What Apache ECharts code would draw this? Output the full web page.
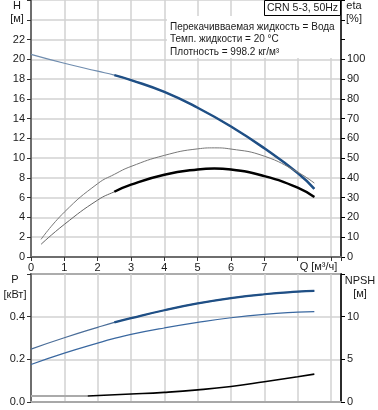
<!DOCTYPE html>
<html><head><meta charset="utf-8">
<script src="https://cdn.jsdelivr.net/npm/echarts@6/dist/echarts.min.js"></script>
<style>html,body{margin:0;padding:0;background:#fff}#c{width:378px;height:410px}</style>
</head><body><div id="c"></div>
<script>
// ---- data ----
const Q_H   = [0, 1, 2, 2.5, 3, 4, 5, 6, 7, 8, 8.5];
const H     = [20.5, 19.6, 18.8, 18.4, 17.9, 16.7, 15.1, 13.2, 11.0, 8.5, 6.9];
const Q_ETA = [0.3, 1, 2, 2.5, 3, 4, 5, 5.5, 6, 7, 8, 8.5];
const ETA_PUMP  = [8.9, 22.7, 37.1, 41.8, 45.8, 51.4, 54.7, 55.2, 54.6, 51.0, 42.9, 37.4];
const ETA_TOTAL = [6.4, 16.5, 28.8, 33.0, 36.6, 41.6, 44.3, 44.8, 44.3, 40.9, 35.1, 30.3];
const Q_P   = [0, 1, 2, 2.5, 3, 4, 5, 6, 7, 8, 8.5];
const P1    = [0.248, 0.301, 0.350, 0.373, 0.393, 0.430, 0.462, 0.487, 0.505, 0.517, 0.521];
const P2    = [0.176, 0.229, 0.276, 0.298, 0.317, 0.347, 0.373, 0.395, 0.411, 0.421, 0.424];
const Q_NPSH_LOW = [0, 1.7];
const NPSH_LOW   = [0.7, 0.7];
const Q_NPSH = [1.7, 3, 4, 5, 6, 7, 8, 8.5];
const NPSH   = [0.7, 0.93, 1.13, 1.42, 1.82, 2.37, 2.96, 3.27];
const THICK_FROM = 2.5;
const INFO_LINES = ['Перекачивваемая жидкость = Вода', 'Темп. жидкости = 20 °C', 'Плотность = 998.2 кг/м³'];
const TITLE = 'CRN 5-3, 50Hz';

const pairs = (xs, ys) => xs.map((x, i) => [x, ys[i]]);
const thick = (xs, ys) => pairs(xs, ys).filter(p => p[0] >= THICK_FROM);

const FONT = '"Liberation Sans", Arial, sans-serif';
const TXT = '#1a1a1a';
const GRIDC = '#d2d2d2';
const BLUE = '#1f4f85';

const chart = echarts.init(document.getElementById('c'), null, {renderer: 'canvas'});

const xBase = {
  type: 'value', min: 0, max: 9.3, interval: 1,
  splitLine: {show: true, lineStyle: {color: GRIDC, width: 1.5}},
};

const lbl = (s, x, y, size) => ({
  type: 'text', x: x, y: y, z: 20,
  style: {text: s, font: (size || 11) + 'px ' + FONT, fill: TXT, textAlign: 'center', textVerticalAlign: 'middle'}
});

const graphics = [
  {type: 'rect', shape: {x: 167, y: 16, width: 173, height: 42}, style: {fill: '#fff'}, z: 10},
  {type: 'rect', shape: {x: 264.5, y: 0.5, width: 76, height: 15}, style: {fill: '#fff', stroke: '#000', lineWidth: 1}, z: 11},
  lbl(TITLE, 302.5, 8, 10.5),
  lbl('H', 17, 6), lbl('[м]', 17, 19),
  lbl('eta', 354, 6), lbl('[%]', 354, 19),
  lbl('P', 15, 280), lbl('[кВт]', 15, 295),
  lbl('NPSH', 360, 281), lbl('[м]', 360, 294),
  lbl('Q [м³/ч]', 318.5, 267),
];
INFO_LINES.forEach((s, i) => graphics.push({
  type: 'text', x: 170, y: 27 + i * 12.6, z: 20,
  style: {text: s, font: '10px ' + FONT, fill: TXT, textAlign: 'left', textVerticalAlign: 'middle'}
}));

const endLabel = (data, text, pos) => data.map((p, i) => i === data.length - 1
  ? {value: p, label: {show: true, formatter: text, position: pos, distance: pos === 'top' ? 1 : 3,
      color: BLUE, fontSize: 11, fontFamily: FONT}}
  : p);

const line = (xi, yi, data, color, width, extra) => Object.assign({
  type: 'line', xAxisIndex: xi, yAxisIndex: yi, data: data, smooth: 0.5,
  showSymbol: false, lineStyle: {color: color, width: width}
}, extra || {});

chart.setOption({
  animation: false,
  backgroundColor: '#fff',
  textStyle: {fontFamily: FONT},
  grid: [
    {left: 31, right: 37, top: 0, height: 257},
    {left: 31, right: 37, top: 274, height: 128, show: true, borderColor: '#000', borderWidth: 1.5, backgroundColor: 'transparent'}
  ],
  xAxis: [
    Object.assign({}, xBase, {
      gridIndex: 0,
      axisLine: {show: true, onZero: false, lineStyle: {color: '#6e6e6e', width: 2}},
      axisTick: {show: true, length: 4, lineStyle: {color: '#333'}},
      axisLabel: {show: true, margin: 5, color: TXT, fontSize: 11, fontFamily: FONT,
        formatter: v => (v <= 7 && Math.abs(v - Math.round(v)) < 1e-6) ? String(v) : ''},
    }),
    Object.assign({}, xBase, {
      gridIndex: 1,
      axisLine: {show: true, onZero: false, lineStyle: {color: '#a8a8a8', width: 2}},
      axisTick: {show: false}, axisLabel: {show: false},
    })
  ],
  yAxis: [
    {type: 'value', gridIndex: 0, position: 'left', min: 0, max: 26, interval: 2,
      axisLine: {show: true, onZero: false, lineStyle: {color: '#6e6e6e', width: 2}},
      axisTick: {show: true, length: 4, lineStyle: {color: '#333'}},
      axisLabel: {margin: 6, color: TXT, fontSize: 11, fontFamily: FONT, formatter: v => v <= 22 ? String(v) : ''},
      splitLine: {show: true, lineStyle: {color: GRIDC, width: 1.5}}},
    {type: 'value', gridIndex: 0, position: 'right', min: 0, max: 130, interval: 10,
      axisLine: {show: true, onZero: false, lineStyle: {color: '#000', width: 1.5}},
      axisTick: {show: true, length: 4, lineStyle: {color: '#000'}},
      axisLabel: {margin: 6, color: TXT, fontSize: 11, fontFamily: FONT, formatter: v => v <= 100 ? String(v) : ''},
      splitLine: {show: false}},
    {type: 'value', gridIndex: 1, position: 'left', min: 0, max: 0.6, interval: 0.2,
      axisLine: {show: true, onZero: false, lineStyle: {color: '#6e6e6e', width: 2}},
      axisTick: {show: true, length: 4, lineStyle: {color: '#333'}},
      axisLabel: {margin: 6, color: TXT, fontSize: 11, fontFamily: FONT, formatter: v => v < 0.55 ? v.toFixed(1) : ''},
      splitLine: {show: true, lineStyle: {color: GRIDC, width: 1.5}}},
    {type: 'value', gridIndex: 1, position: 'right', min: 0, max: 15, interval: 5,
      axisLine: {show: true, onZero: false, lineStyle: {color: '#000', width: 1.5}},
      axisTick: {show: true, length: 4, lineStyle: {color: '#000'}},
      axisLabel: {margin: 6, color: TXT, fontSize: 11, fontFamily: FONT, formatter: v => v < 14 ? String(v) : ''},
      splitLine: {show: false}}
  ],
  graphic: graphics,
  series: [
    line(0, 0, pairs(Q_H, H), '#6f8cae', 1.2),
    line(0, 0, thick(Q_H, H), BLUE, 2.5),
    line(0, 1, pairs(Q_ETA, ETA_PUMP), '#777', 1),
    line(0, 1, pairs(Q_ETA, ETA_TOTAL), '#666', 1),
    line(0, 1, thick(Q_ETA, ETA_TOTAL), '#000', 2.5),
    line(1, 2, endLabel(pairs(Q_P, P1), 'P1', 'top'), '#4a6d98', 1.2),
    line(1, 2, thick(Q_P, P1), BLUE, 2.2),
    line(1, 2, endLabel(pairs(Q_P, P2), 'P2', 'bottom'), '#3a68a0', 1.2),
    line(1, 3, pairs(Q_NPSH_LOW, NPSH_LOW), '#aaa', 2, {smooth: false}),
    line(1, 3, pairs(Q_NPSH, NPSH), '#000', 1.6)
  ]
});
</script></body></html>
